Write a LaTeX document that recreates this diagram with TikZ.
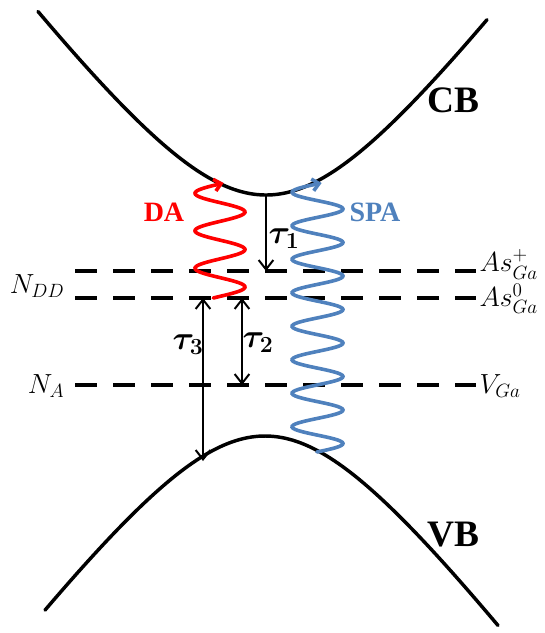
\documentclass[tikz,border=0pt]{standalone}
\usepackage{amsmath,bm}
\usepackage{fontspec}
\setmainfont{Liberation Serif}
\usetikzlibrary{arrows.meta}
\definecolor{spablue}{RGB}{79,129,189}
\tikzset{
  band/.style={line width=2.6pt, line cap=round},
  level/.style={line width=3pt, dash pattern=on 16.5pt off 12pt},
  lifetime/.style={line width=1.5pt},
  wave/.style={line width=2.7pt, line cap=round},
  bandlabel/.style={font=\fontsize{28}{32}\selectfont\bfseries},
  proclabel/.style={font=\fontsize{21}{25}\selectfont\bfseries},
  mathlabel/.style={font=\fontsize{20}{24}\selectfont, inner sep=1pt},
  taulabel/.style={font=\fontsize{23}{27}\selectfont, inner sep=1pt},
}
\begin{document}
\begin{tikzpicture}[x=0.75pt,y=-0.75pt]
\useasboundingbox (0,0) rectangle (544,633);
% bands
\draw[band] plot[domain=-228:221,samples=120,variable=\t] ({266+\t},{195-160*(sqrt(1+(\t/120)^2)-1)});
\draw[band] plot[domain=-220:233,samples=120,variable=\t] ({265+\t},{436+160*(sqrt(1+(\t/120)^2)-1)});
\node[bandlabel] (cb) at (453,100) {CB};
\node[bandlabel] (vb) at (453,535) {VB};
% levels
\coordinate (l1a) at (75,271); \coordinate (l1b) at (476,271);
\coordinate (l2a) at (75,298); \coordinate (l2b) at (476,298);
\coordinate (l3a) at (75,385); \coordinate (l3b) at (476,385);
\draw[level] (l1a) -- (l1b);
\draw[level] (l2a) -- (l2b);
\draw[level] (l3a) -- (l3b);
\node[mathlabel,anchor=east] (ndd) at (66,286) {$N_{DD}$};
\node[mathlabel,anchor=east] (na) at (66,386) {$N_{A}$};
\node[mathlabel,anchor=west] (asp) at (478,264) {$As_{Ga}^{+}$};
\node[mathlabel,anchor=west] (aso) at (478,299) {$As_{Ga}^{0}$};
\node[mathlabel,anchor=west] (vga) at (478,386) {$V_{Ga}$};
% waves
\draw[wave,red,-{Straight Barb[length=5pt,width=9pt]}] plot[domain=298:183,samples=150,variable=\t] ({220+25*cos(9.6*(\t-212))},{\t});
\draw[wave,spablue,-{Straight Barb[length=5pt,width=9pt]}] plot[domain=452:183,samples=250,variable=\t] ({317.5+25.5*cos(10.746*(\t-209))},{\t});
\node[proclabel,text=red] (da) at (164,212) {DA};
\node[proclabel,text=spablue] (spa) at (375,212) {SPA};
% lifetimes
\coordinate (t1a) at (266,196); \coordinate (t1b) at (266,271);
\coordinate (t2a) at (242,298); \coordinate (t2b) at (242,385);
\coordinate (t3a) at (203,298); \coordinate (t3b) at (203,461);
\draw[lifetime,-{Straight Barb[length=7pt,width=11pt]}] (t1a) -- (t1b);
\draw[lifetime,{Straight Barb[length=7pt,width=11pt]}-{Straight Barb[length=7pt,width=11pt]}] (t2a) -- (t2b);
\draw[lifetime,{Straight Barb[length=7pt,width=11pt]}-{Straight Barb[length=7pt,width=11pt]}] (t3a) -- (t3b);
\node[taulabel] (tau1) at (284,239) {$\bm{\tau}_{\bm{1}}$};
\node[taulabel] (tau2) at (258,343) {$\bm{\tau}_{\bm{2}}$};
\node[taulabel] (tau3) at (188,345) {$\bm{\tau}_{\bm{3}}$};
\end{tikzpicture}
\end{document}
